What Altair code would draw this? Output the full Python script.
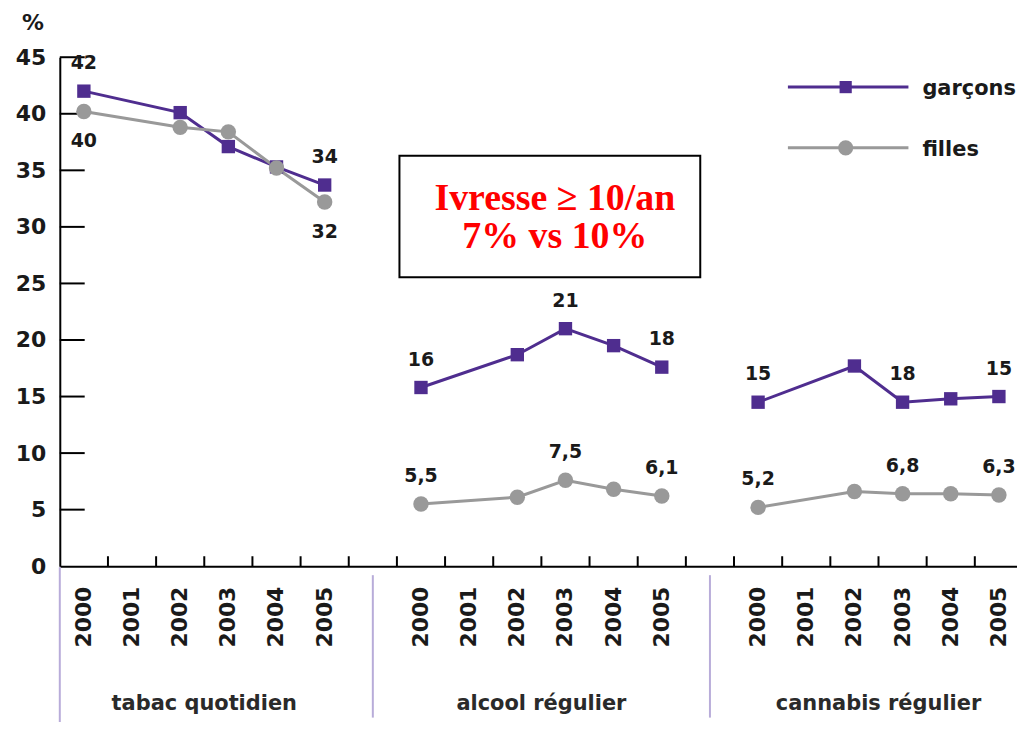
import altair as alt
import pandas as pd

# ---------------- data ----------------
groups = ["tabac quotidien", "alcool régulier", "cannabis régulier"]
axis_years = ["2000", "2001", "2002", "2003", "2004", "2005"]
data_years = ["2000", "2002", "2003", "2004", "2005"]
series_names = ["garçons", "filles"]

garcons_tabac = [42.0, 40.1, 37.1, 35.3, 33.7]
filles_tabac = [40.2, 38.8, 38.4, 35.2, 32.2]
garcons_alcool = [15.8, 18.7, 21.0, 19.5, 17.6]
filles_alcool = [5.5, 6.1, 7.6, 6.8, 6.2]
garcons_cannabis = [14.5, 17.7, 14.5, 14.8, 15.0]
filles_cannabis = [5.2, 6.6, 6.4, 6.4, 6.3]

y_ticks = [0, 5, 10, 15, 20, 25, 30, 35, 40, 45]

label_group = ["tabac quotidien", "tabac quotidien", "tabac quotidien", "tabac quotidien",
               "alcool régulier", "alcool régulier", "alcool régulier",
               "alcool régulier", "alcool régulier", "alcool régulier",
               "cannabis régulier", "cannabis régulier", "cannabis régulier",
               "cannabis régulier", "cannabis régulier", "cannabis régulier"]
label_year = ["2000", "2005", "2000", "2005",
              "2000", "2003", "2005", "2000", "2003", "2005",
              "2000", "2003", "2005", "2000", "2003", "2005"]
label_series = ["garçons", "garçons", "filles", "filles",
                "garçons", "garçons", "garçons", "filles", "filles", "filles",
                "garçons", "garçons", "garçons", "filles", "filles", "filles"]
label_text = ["42", "34", "40", "32",
              "16", "21", "18", "5,5", "7,5", "6,1",
              "15", "18", "15", "5,2", "6,8", "6,3"]
label_below = ["no", "no", "yes", "yes",
               "no", "no", "no", "no", "no", "no",
               "no", "no", "no", "no", "no", "no"]

annotation_lines = ["Ivresse \u2265 10/an", "7% vs 10%"]
unit_label = "%"

# ---------------- tables ----------------
PURPLE = "#4f2d8f"
GREY = "#999999"
TXT = "#1a1a1a"
SEP = "#b8acd9"

keys = []
for i, g in enumerate(groups):
    if i > 0:
        keys.append(f"gap{i}")
    keys += [f"{g}|{y}" for y in axis_years]

values = {
    ("tabac quotidien", "garçons"): garcons_tabac,
    ("tabac quotidien", "filles"): filles_tabac,
    ("alcool régulier", "garçons"): garcons_alcool,
    ("alcool régulier", "filles"): filles_alcool,
    ("cannabis régulier", "garçons"): garcons_cannabis,
    ("cannabis régulier", "filles"): filles_cannabis,
}
rows = []
for (g, s), vals in values.items():
    for y, v in zip(data_years, vals):
        rows.append({"key": f"{g}|{y}", "group": g, "series": s, "value": v})
df = pd.DataFrame(rows)

lab = pd.DataFrame({"key": [f"{g}|{y}" for g, y in zip(label_group, label_year)],
                    "series": label_series, "text": label_text, "below": label_below})
lab = lab.merge(df[["key", "series", "value"]], on=["key", "series"], how="left")

W, H = 967, 511
xscale = alt.Scale(domain=keys, paddingInner=0, paddingOuter=0)
yscale = alt.Scale(domain=[0, 45], nice=False, zero=True)

x_axis = alt.Axis(
    title=None, labelAngle=-90, labelAlign="right", labelBaseline="middle",
    labelExpr="indexof(datum.value, '|') >= 0 ? substring(datum.value, indexof(datum.value, '|') + 1) : ''",
    labelFont="DejaVu Sans", labelFontWeight="bold", labelFontSize=22, labelColor=TXT,
    labelPadding=20, labelOverlap=False, ticks=False, domainColor="black", domainWidth=2, grid=False,
)
y_axis = alt.Axis(
    title=None, values=y_ticks, labelFont="DejaVu Sans", labelFontWeight="bold",
    labelFontSize=22, labelColor=TXT, labelPadding=14, ticks=False,
    domainColor="black", domainWidth=2, grid=False,
)


def X(**kw):
    return alt.X("key:O", scale=xscale, axis=x_axis, **kw)


def Y(field):
    return alt.Y(field, scale=yscale, axis=y_axis)


color = alt.Color("series:N", scale=alt.Scale(domain=series_names, range=[PURPLE, GREY]), legend=None)

lines = alt.Chart(df).mark_line(strokeWidth=3).encode(
    x=X(), y=Y("value:Q"), color=color, detail="group:N",
)
points = alt.Chart(df).mark_point(filled=True, opacity=1).encode(
    x=X(), y=Y("value:Q"), color=color,
    shape=alt.Shape("series:N", scale=alt.Scale(domain=series_names, range=["square", "circle"]), legend=None),
    size=alt.Size("series:N", scale=alt.Scale(domain=series_names, range=[180, 240]), legend=None),
)

txt_style = dict(font="DejaVu Sans", fontWeight="bold", fontSize=19, color=TXT, baseline="middle")
labels_above = alt.Chart(lab).transform_filter("datum.below == 'no'").mark_text(dy=-28, **txt_style).encode(
    x=X(), y=Y("value:Q"), text="text:N",
)
labels_below = alt.Chart(lab).transform_filter("datum.below == 'yes'").mark_text(dy=30, **txt_style).encode(
    x=X(), y=Y("value:Q"), text="text:N",
)

# inner ticks
xticks = alt.Chart(pd.DataFrame({"key": keys[1:]})).mark_rule(color="black", strokeWidth=2).encode(
    x=X(bandPosition=0), y=alt.value(H), y2=alt.value(H - 10),
)
yticks = alt.Chart(pd.DataFrame({"v": y_ticks[1:]})).mark_rule(color="black", strokeWidth=2).encode(
    y=Y("v:Q"), x=alt.value(0), x2=alt.value(25),
)

# group separators and names
sep_first = alt.Chart(pd.DataFrame({"key": [keys[0]]})).mark_rule(color=SEP, strokeWidth=2).encode(
    x=X(bandPosition=0), y=alt.value(H + 1), y2=alt.value(H + 160),
)
sep_gaps = alt.Chart(pd.DataFrame({"key": [k for k in keys if k.startswith("gap")]})).mark_rule(
    color=SEP, strokeWidth=2).encode(
    x=X(bandPosition=0.5), y=alt.value(H + 9), y2=alt.value(H + 152),
)
group_names = alt.Chart(pd.DataFrame({"key": [f"{g}|2003" for g in groups], "label": groups})).mark_text(
    font="DejaVu Sans", fontWeight="bold", fontSize=21, color="#2a2a2a", baseline="middle").encode(
    x=X(bandPosition=0), y=alt.value(H + 138), text="label:N",
)


# legend (manual)
def legend_entry(name, col, shape, size, ypos):
    d = pd.DataFrame({"series": [name]})
    ln = alt.Chart(d).mark_rule(color=col, strokeWidth=3).encode(
        x=alt.value(731), x2=alt.value(852), y=alt.value(ypos))
    pt = alt.Chart(d).mark_point(filled=True, opacity=1, color=col, shape=shape, size=size).encode(
        x=alt.value(789), y=alt.value(ypos))
    tx = alt.Chart(d).mark_text(font="DejaVu Sans", fontWeight="bold", fontSize=21, color=TXT,
                                align="left", baseline="middle").encode(
        x=alt.value(866), y=alt.value(ypos + 2), text="series:N")
    return [ln, pt, tx]


legend_layers = legend_entry("garçons", PURPLE, "square", 150, 30) + legend_entry("filles", GREY, "circle", 230, 91)

# annotation box
one = pd.DataFrame({"a": [0]})
box = alt.Chart(one).mark_rect(fill="white", stroke="black", strokeWidth=2).encode(
    x=alt.value(341), x2=alt.value(643), y=alt.value(99), y2=alt.value(221))
box_text = alt.Chart(one).mark_text(
    text=annotation_lines, font="Liberation Serif", fontWeight="bold", fontSize=38,
    color="#ff0000", lineHeight=39, align="center", baseline="middle").encode(
    x=alt.value(497), y=alt.value(142))

unit = alt.Chart(one).mark_text(text=unit_label, font="DejaVu Sans", fontWeight="bold",
                                fontSize=22, color=TXT, baseline="middle").encode(
    x=alt.value(-27), y=alt.value(-34))

chart = alt.layer(
    lines, xticks, yticks, sep_first, sep_gaps, group_names, points, labels_above, labels_below,
    box, box_text, unit, *legend_layers,
).properties(
    width=W, height=H,
    padding={"left": 52, "top": 48, "right": -6, "bottom": 155},
    autosize=alt.AutoSizeParams(type="none"),
    background="white",
).configure_view(stroke=None)

chart.save("out.html", embed_options={"renderer": "svg", "actions": False})
